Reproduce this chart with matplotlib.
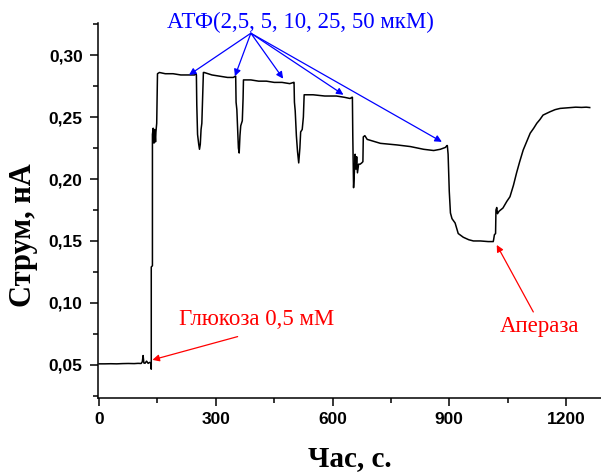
import matplotlib.pyplot as plt
from matplotlib.ticker import MultipleLocator, FuncFormatter

# time (s) and current (nA)
t = [0, 15, 30, 45, 60, 75, 90, 100, 108, 111, 113, 115, 118, 122, 126, 130, 133,
     134, 134, 137, 137, 139, 141, 143, 145, 146, 148, 150,
     155, 170, 190, 210, 230, 245, 249,
     250, 251, 253, 256, 258, 260, 262, 264, 266, 268,
     270, 290, 310, 330, 345, 350,
     351, 352, 354, 356, 358, 360, 362, 364, 368, 370, 371,
     372, 390, 410, 430, 450, 470, 490, 500,
     501, 502, 504, 507, 510, 513, 516, 518, 522, 525, 527,
     528, 550, 580, 610, 630, 645, 650,
     651, 652, 654, 656, 658, 660, 662, 664, 667, 671, 675, 678, 679, 683,
     689, 723, 766, 800, 834, 860, 877, 890, 894,
     895, 897, 900, 903, 907, 915, 923, 936, 950, 962, 980, 1000, 1013,
     1014, 1016, 1019, 1020, 1022, 1024, 1028, 1038, 1048, 1056, 1065, 1073,
     1081, 1090, 1100, 1108, 1117, 1125, 1133, 1141, 1150, 1159, 1172, 1185,
     1197, 1210, 1225, 1240, 1252, 1261]
cur = [0.0508, 0.0508, 0.0509, 0.0508, 0.0510, 0.0511, 0.0510, 0.0512, 0.0511, 0.0525, 0.0575, 0.0515, 0.0513, 0.0530, 0.0512, 0.0520, 0.0515,
       0.0465, 0.129, 0.130, 0.236, 0.241, 0.229, 0.240, 0.230, 0.238, 0.245, 0.285,
       0.286, 0.285, 0.285, 0.284, 0.284, 0.284, 0.285,
       0.284, 0.260, 0.236, 0.228, 0.224, 0.228, 0.240, 0.245, 0.265, 0.286,
       0.286, 0.284, 0.283, 0.282, 0.282, 0.283,
       0.283, 0.262, 0.256, 0.240, 0.225, 0.221, 0.235, 0.243, 0.247, 0.265, 0.280,
       0.280, 0.280, 0.279, 0.279, 0.278, 0.278, 0.277, 0.278,
       0.278, 0.262, 0.255, 0.235, 0.222, 0.213, 0.225, 0.238, 0.240, 0.250, 0.268,
       0.268, 0.268, 0.267, 0.267, 0.266, 0.265, 0.266,
       0.266, 0.235, 0.193, 0.205, 0.220, 0.208, 0.218, 0.205, 0.212, 0.212, 0.213, 0.214, 0.234, 0.235,
       0.232, 0.2288, 0.2275, 0.2262, 0.224, 0.223, 0.224, 0.2255, 0.227,
       0.227, 0.220, 0.190, 0.1726, 0.168, 0.1645, 0.156, 0.153, 0.151, 0.150, 0.150, 0.1495, 0.1495,
       0.151, 0.155, 0.156, 0.175, 0.177, 0.172, 0.174, 0.1766, 0.182, 0.1857, 0.195, 0.205,
       0.214, 0.2234, 0.231, 0.237, 0.241, 0.245, 0.248, 0.2516, 0.253, 0.2543, 0.256, 0.257,
       0.2573, 0.2577, 0.258, 0.2578, 0.258, 0.2577]

atp_label = 'АТФ(2,5, 5, 10, 25, 50 мкМ)'
atp_tips = [(231, 0.284), (349, 0.283), (473, 0.281), (628, 0.268), (881, 0.230)]
atp_origin = (390, 0.3177)

fig = plt.figure(figsize=(6.01, 4.73), dpi=100)
ax = fig.add_axes([0.163, 0.159, 0.837, 0.792])

ax.plot(t, cur, color='black', lw=1.1)

ax.set_xlim(-3, 1290)
ax.set_ylim(0.0234, 0.3258)
ax.spines['top'].set_visible(False)
ax.spines['right'].set_visible(False)
for s in ['left', 'bottom']:
    ax.spines[s].set_linewidth(1.1)

ax.xaxis.set_major_locator(MultipleLocator(300))
ax.xaxis.set_minor_locator(MultipleLocator(150))
ax.yaxis.set_major_locator(MultipleLocator(0.05))
ax.yaxis.set_minor_locator(MultipleLocator(0.025))
ax.yaxis.set_major_formatter(FuncFormatter(lambda v, p: f'{v:.2f}'.replace('.', ',')))
ax.tick_params(which='major', direction='out', length=6, width=1.1, pad=4)
ax.tick_params(axis='y', which='major', pad=5)
ax.tick_params(which='minor', direction='out', length=3.5, width=1.1)
for lab in ax.get_xticklabels() + ax.get_yticklabels():
    lab.set_fontfamily('Liberation Sans')
    lab.set_fontweight('bold')
    lab.set_fontsize(12.5)

ax.set_xlabel('Час, с.', family='Liberation Serif', fontweight='bold', fontsize=21, va='center')
ax.xaxis.set_label_coords(0.5, -0.161)
ax.set_ylabel('Струм, нА', family='Liberation Serif', fontweight='bold', fontsize=22, va='center')
ax.yaxis.set_label_coords(-0.149, 0.434)

# ATP arrows
for tip in atp_tips:
    ax.annotate('', xy=tip, xytext=atp_origin,
                arrowprops=dict(arrowstyle='-|>', color='blue', lw=0.9,
                                mutation_scale=10, shrinkA=0, shrinkB=0))
ax.text(518, 0.3266, atp_label, color='blue', family='Liberation Serif',
        fontsize=16.5, ha='center', va='center', clip_on=False)

ax.annotate('', xy=(137, 0.054), xytext=(356, 0.0728),
            arrowprops=dict(arrowstyle='-|>', color='red', lw=0.9,
                            mutation_scale=10, shrinkA=0, shrinkB=0))
ax.text(205, 0.0863, 'Глюкоза 0,5 мМ', color='red', family='Liberation Serif',
        fontsize=16.5, ha='left', va='center')
ax.annotate('', xy=(1022, 0.1468), xytext=(1116, 0.0927),
            arrowprops=dict(arrowstyle='-|>', color='red', lw=0.9,
                            mutation_scale=10, shrinkA=0, shrinkB=0))
ax.text(1133, 0.0806, 'Апераза', color='red', family='Liberation Serif',
        fontsize=16.5, ha='center', va='center')

fig.savefig('out.png', dpi=100)
